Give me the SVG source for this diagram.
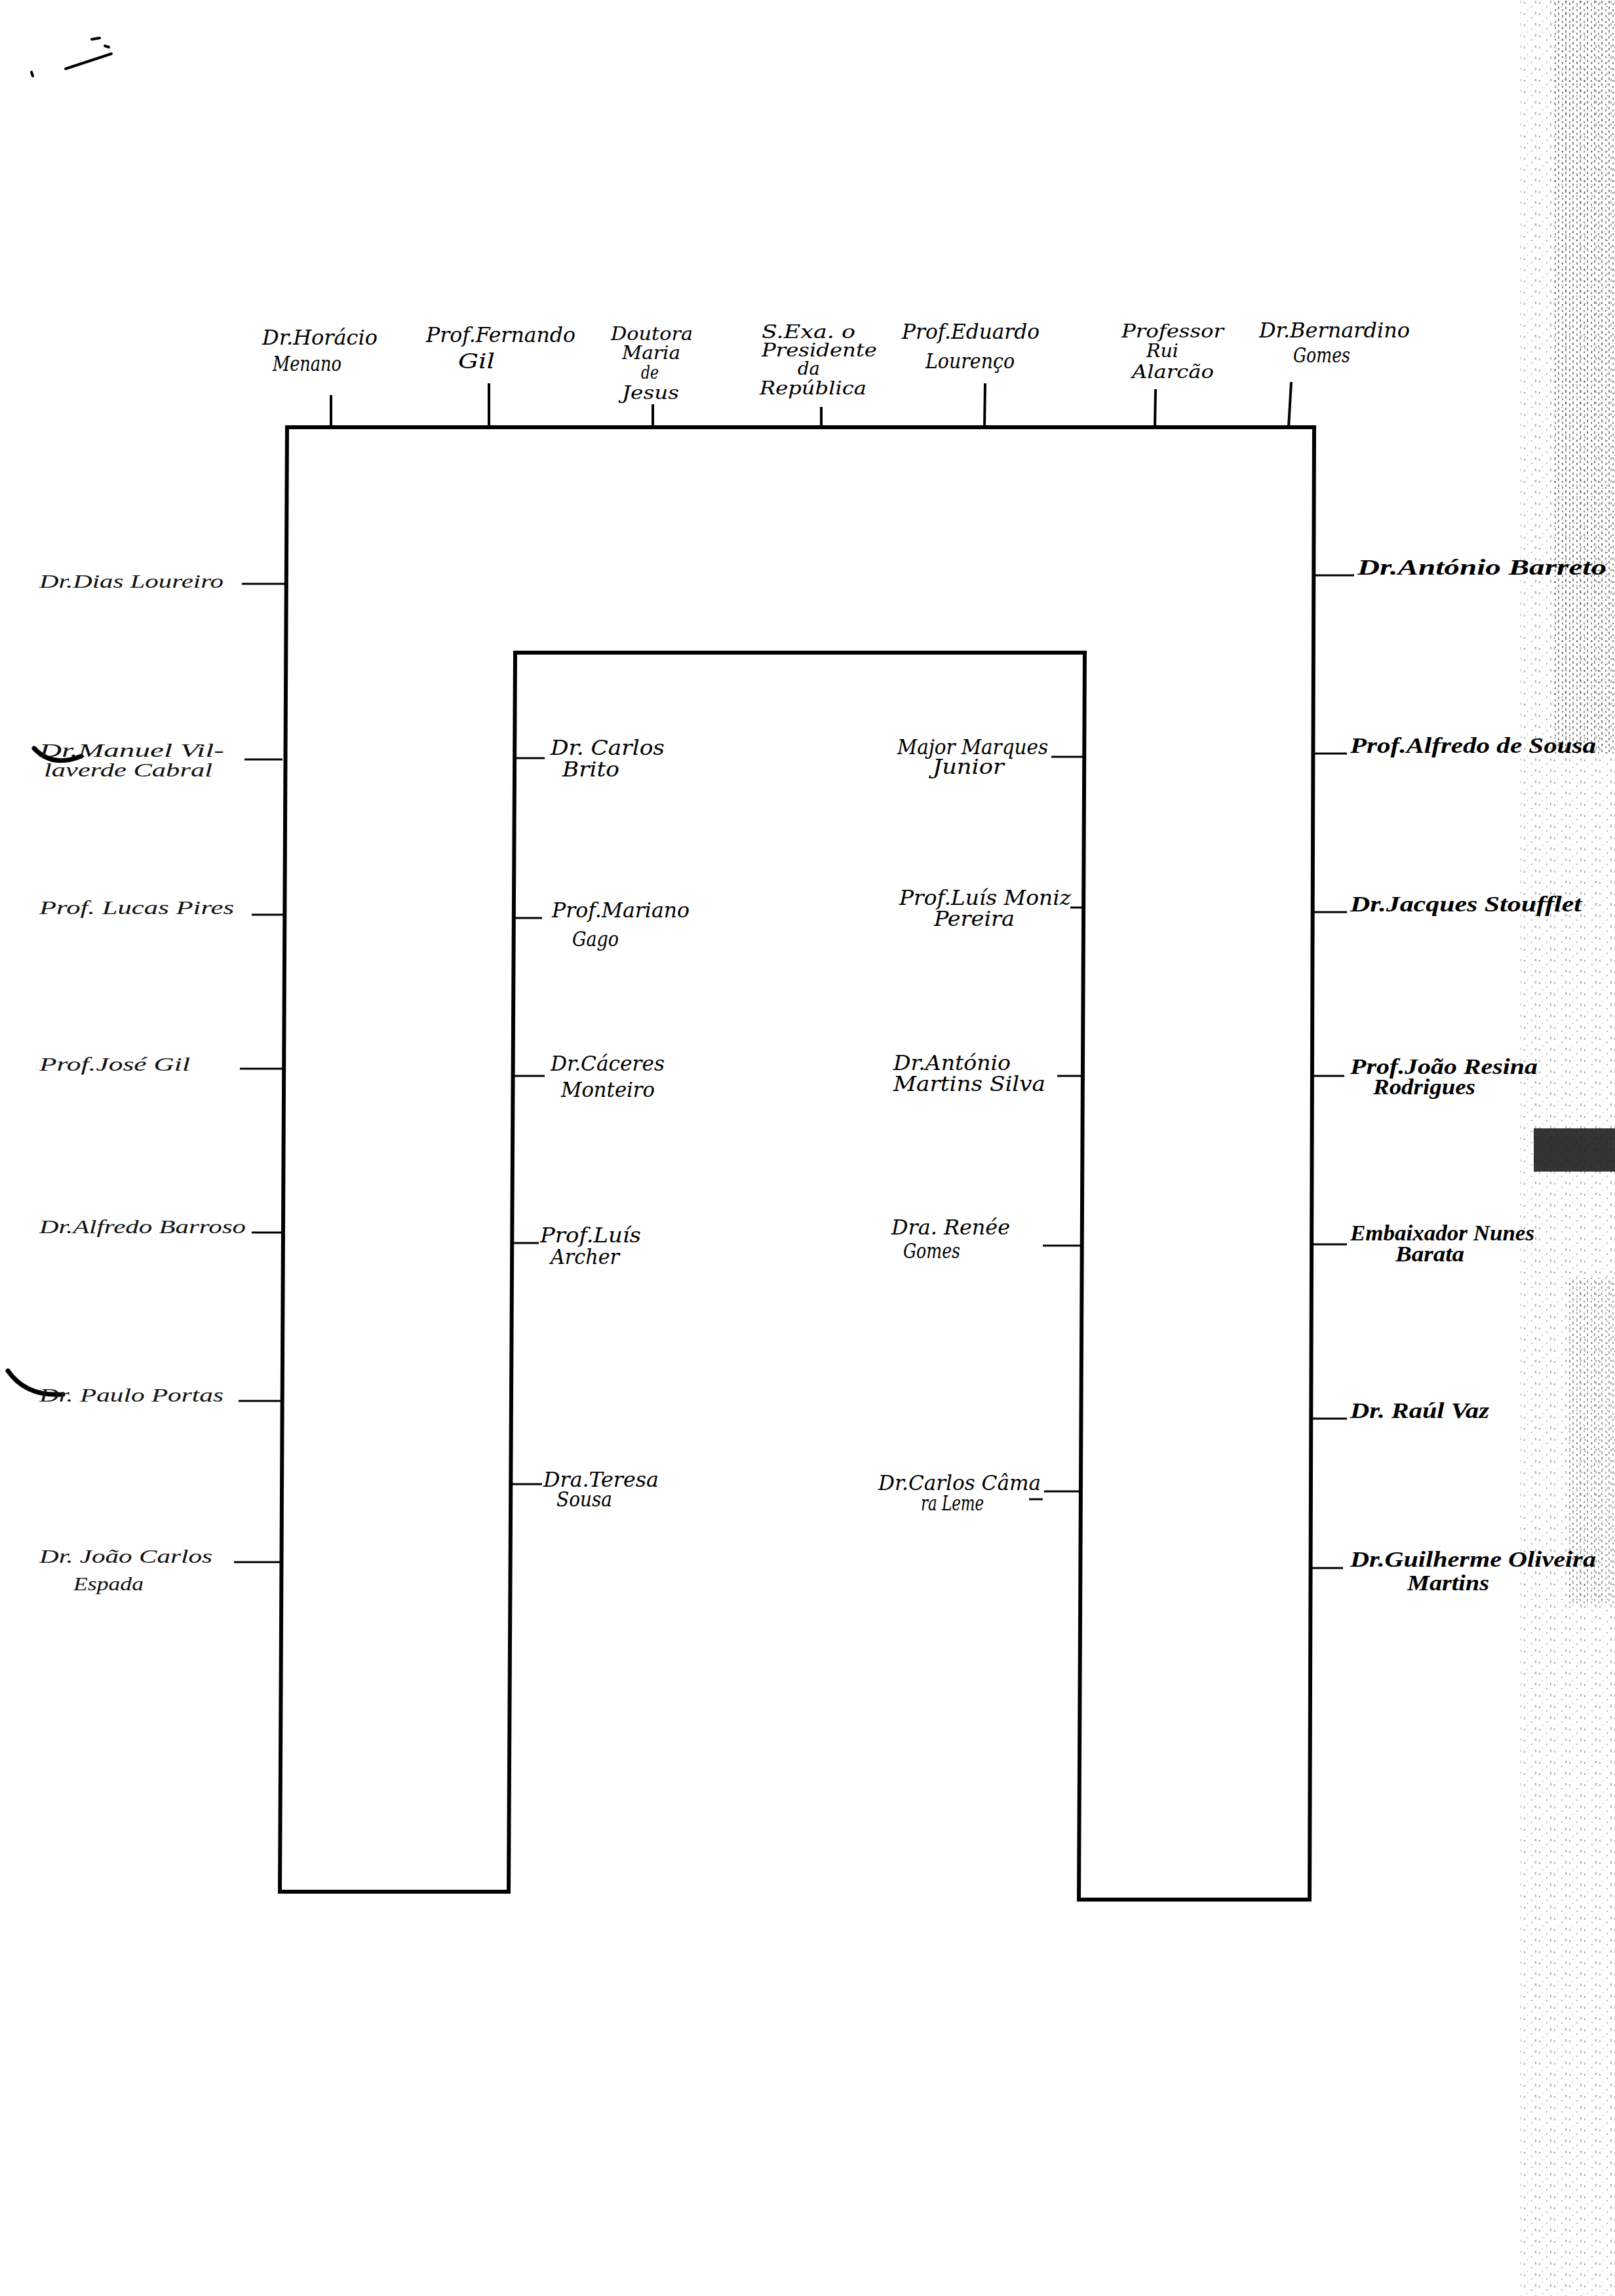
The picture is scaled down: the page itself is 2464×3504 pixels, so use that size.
<svg xmlns="http://www.w3.org/2000/svg" width="2464" height="3504" viewBox="0 0 2464 3504">
<style>
text{font-family:"Liberation Serif","DejaVu Serif",serif;fill:#000}
.t{font-family:"DejaVu Serif Condensed","DejaVu Serif",serif;font-stretch:condensed;font-size:31px;font-style:italic}
.s{font-size:27px}
.l{font-size:29px;font-style:italic;fill:#111}
.r{font-size:33px;font-style:italic;font-weight:bold}
.frame{fill:none;stroke:#000;stroke-width:6;stroke-linejoin:miter}
.tick{stroke:#000;stroke-width:4;fill:none}
.lead{stroke:#000;stroke-width:3;fill:none}
.mark{fill:none;stroke:#000;stroke-linecap:round}
</style>
<defs>
<pattern id="speck" width="23" height="17" patternUnits="userSpaceOnUse">
<rect x="2" y="3" width="2" height="3" fill="#000"/>
<rect x="13" y="9" width="2" height="2" fill="#000"/>
<rect x="7" y="14" width="1" height="2" fill="#000"/>
<rect x="19" y="1" width="2" height="4" fill="#000"/>
</pattern>
<pattern id="speck2" width="11" height="9" patternUnits="userSpaceOnUse">
<rect x="1" y="1" width="2" height="4" fill="#000"/>
<rect x="7" y="5" width="2" height="3" fill="#000"/>
</pattern>
</defs>
<rect width="2464" height="3504" fill="#fff"/>

<!-- scan noise on right edge -->
<g id="scan-noise">
<rect x="2320" y="0" width="144" height="3504" fill="url(#speck)" opacity="0.3"/>
<rect x="2370" y="0" width="94" height="1150" fill="url(#speck2)" opacity="0.45"/>
<rect x="2390" y="1950" width="74" height="500" fill="url(#speck2)" opacity="0.35"/>
<rect x="2340" y="1722" width="124" height="66" fill="#111" opacity="0.85"/>
<path class="mark" d="M100 105 L170 82" stroke-width="4"/>
<path class="mark" d="M140 60 L152 58 M160 70 L166 72 M48 110 L50 116" stroke-width="4"/>
<path class="mark" d="M52 1142 Q80 1172 124 1154" stroke-width="7"/>
<path class="mark" d="M12 2092 Q40 2132 96 2128" stroke-width="7"/>
</g>

<!-- table -->
<g id="table">
<path class="frame" d="M427 2887 L438 652 L2005 652 L1998 2899 L1646 2899 L1655 996 L786 996 L776 2887 Z"/>
</g>

<g id="connectors">
<line class="tick" x1="505" y1="603" x2="505" y2="652"/>
<line class="tick" x1="746" y1="585" x2="746" y2="652"/>
<line class="tick" x1="996" y1="617" x2="996" y2="652"/>
<line class="tick" x1="1253" y1="621" x2="1253" y2="652"/>
<line class="tick" x1="1503" y1="585" x2="1502" y2="652"/>
<line class="tick" x1="1763" y1="594" x2="1762" y2="652"/>
<line class="tick" x1="1970" y1="583" x2="1966" y2="652"/>
<line class="lead" x1="369" y1="891" x2="437" y2="891"/>
<line class="lead" x1="373" y1="1159" x2="431" y2="1159"/>
<line class="lead" x1="384" y1="1396" x2="433" y2="1396"/>
<line class="lead" x1="366" y1="1631" x2="432" y2="1631"/>
<line class="lead" x1="384" y1="1881" x2="431" y2="1881"/>
<line class="lead" x1="364" y1="2138" x2="430" y2="2138"/>
<line class="lead" x1="357" y1="2384" x2="429" y2="2384"/>
<line class="lead" x1="785" y1="1157" x2="831" y2="1157"/>
<line class="lead" x1="784" y1="1401" x2="827" y2="1401"/>
<line class="lead" x1="783" y1="1642" x2="831" y2="1642"/>
<line class="lead" x1="782" y1="1897" x2="822" y2="1897"/>
<line class="lead" x1="780" y1="2265" x2="827" y2="2265"/>
<line class="lead" x1="1604" y1="1155" x2="1654" y2="1155"/>
<line class="lead" x1="1633" y1="1385" x2="1653" y2="1385"/>
<line class="lead" x1="1613" y1="1642" x2="1652" y2="1642"/>
<line class="lead" x1="1591" y1="1901" x2="1651" y2="1901"/>
<line class="lead" x1="1593" y1="2276" x2="1648" y2="2276"/>
<line class="lead" x1="1570" y1="2288" x2="1591" y2="2288"/>
<line class="lead" x1="2003" y1="878" x2="2066" y2="878"/>
<line class="lead" x1="2002" y1="1150" x2="2055" y2="1150"/>
<line class="lead" x1="2001" y1="1392" x2="2055" y2="1392"/>
<line class="lead" x1="2001" y1="1642" x2="2051" y2="1642"/>
<line class="lead" x1="2000" y1="1899" x2="2055" y2="1899"/>
<line class="lead" x1="1999" y1="2165" x2="2055" y2="2165"/>
<line class="lead" x1="1999" y1="2393" x2="2049" y2="2393"/>
</g>

<g id="horacio-menano"><text class="t" x="400" y="526" textLength="176" lengthAdjust="spacingAndGlyphs">Dr.Horácio</text><text class="t" x="416" y="566" textLength="105" lengthAdjust="spacingAndGlyphs">Menano</text></g>
<g id="fernando-gil"><text class="t" x="650" y="522" textLength="228" lengthAdjust="spacingAndGlyphs">Prof.Fernando</text><text class="t" x="699" y="562" textLength="56" lengthAdjust="spacingAndGlyphs">Gil</text></g>
<g id="maria-de-jesus"><text class="t s" x="932" y="519" textLength="125" lengthAdjust="spacingAndGlyphs">Doutora</text><text class="t s" x="949" y="548" textLength="89" lengthAdjust="spacingAndGlyphs">Maria</text><text class="t s" x="978" y="578" textLength="27" lengthAdjust="spacingAndGlyphs">de</text><text class="t s" x="949" y="609" textLength="87" lengthAdjust="spacingAndGlyphs">Jesus</text></g>
<g id="presidente"><text class="t s" x="1162" y="516" textLength="143" lengthAdjust="spacingAndGlyphs">S.Exa. o</text><text class="t s" x="1162" y="544" textLength="176" lengthAdjust="spacingAndGlyphs">Presidente</text><text class="t s" x="1217" y="572" textLength="34" lengthAdjust="spacingAndGlyphs">da</text><text class="t s" x="1159" y="602" textLength="163" lengthAdjust="spacingAndGlyphs">República</text></g>
<g id="eduardo-lourenco"><text class="t" x="1376" y="517" textLength="210" lengthAdjust="spacingAndGlyphs">Prof.Eduardo</text><text class="t" x="1412" y="562" textLength="136" lengthAdjust="spacingAndGlyphs">Lourenço</text></g>
<g id="rui-alarcao"><text class="t s" x="1711" y="515" textLength="156" lengthAdjust="spacingAndGlyphs">Professor</text><text class="t s" x="1749" y="545" textLength="49" lengthAdjust="spacingAndGlyphs">Rui</text><text class="t s" x="1727" y="577" textLength="125" lengthAdjust="spacingAndGlyphs">Alarcão</text></g>
<g id="bernardino-gomes"><text class="t" x="1921" y="515" textLength="230" lengthAdjust="spacingAndGlyphs">Dr.Bernardino</text><text class="t" x="1973" y="553" textLength="87" lengthAdjust="spacingAndGlyphs">Gomes</text></g>

<g id="dias-loureiro"><text class="l" x="60" y="897" textLength="281" lengthAdjust="spacingAndGlyphs">Dr.Dias Loureiro</text></g>
<g id="manuel-vilaverde-cabral"><text class="l" x="60" y="1155" textLength="282" lengthAdjust="spacingAndGlyphs">Dr.Manuel Vil-</text><text class="l" x="67" y="1185" textLength="257" lengthAdjust="spacingAndGlyphs">laverde Cabral</text></g>
<g id="lucas-pires"><text class="l" x="60" y="1395" textLength="297" lengthAdjust="spacingAndGlyphs">Prof. Lucas Pires</text></g>
<g id="jose-gil"><text class="l" x="60" y="1634" textLength="230" lengthAdjust="spacingAndGlyphs">Prof.José Gil</text></g>
<g id="alfredo-barroso"><text class="l" x="60" y="1882" textLength="315" lengthAdjust="spacingAndGlyphs">Dr.Alfredo Barroso</text></g>
<g id="paulo-portas"><text class="l" x="60" y="2139" textLength="281" lengthAdjust="spacingAndGlyphs">Dr. Paulo Portas</text></g>
<g id="joao-carlos-espada"><text class="l" x="60" y="2385" textLength="264" lengthAdjust="spacingAndGlyphs">Dr. João Carlos</text><text class="l" x="112" y="2427" textLength="107" lengthAdjust="spacingAndGlyphs">Espada</text></g>

<g id="carlos-brito"><text class="t" x="840" y="1152" textLength="174" lengthAdjust="spacingAndGlyphs">Dr. Carlos</text><text class="t" x="858" y="1185" textLength="87" lengthAdjust="spacingAndGlyphs">Brito</text></g>
<g id="mariano-gago"><text class="t" x="842" y="1400" textLength="210" lengthAdjust="spacingAndGlyphs">Prof.Mariano</text><text class="t" x="873" y="1444" textLength="71" lengthAdjust="spacingAndGlyphs">Gago</text></g>
<g id="caceres-monteiro"><text class="t" x="840" y="1634" textLength="174" lengthAdjust="spacingAndGlyphs">Dr.Cáceres</text><text class="t" x="856" y="1674" textLength="143" lengthAdjust="spacingAndGlyphs">Monteiro</text></g>
<g id="luis-archer"><text class="t" x="824" y="1896" textLength="154" lengthAdjust="spacingAndGlyphs">Prof.Luís</text><text class="t" x="840" y="1929" textLength="105" lengthAdjust="spacingAndGlyphs">Archer</text></g>
<g id="teresa-sousa"><text class="t" x="829" y="2269" textLength="176" lengthAdjust="spacingAndGlyphs">Dra.Teresa</text><text class="t" x="849" y="2299" textLength="85" lengthAdjust="spacingAndGlyphs">Sousa</text></g>

<g id="marques-junior"><text class="t" x="1369" y="1151" textLength="230" lengthAdjust="spacingAndGlyphs">Major Marques</text><text class="t" x="1423" y="1181" textLength="109" lengthAdjust="spacingAndGlyphs">Junior</text></g>
<g id="moniz-pereira"><text class="t" x="1372" y="1381" textLength="262" lengthAdjust="spacingAndGlyphs">Prof.Luís Moniz</text><text class="t" x="1425" y="1413" textLength="123" lengthAdjust="spacingAndGlyphs">Pereira</text></g>
<g id="martins-silva"><text class="t" x="1363" y="1633" textLength="179" lengthAdjust="spacingAndGlyphs">Dr.António</text><text class="t" x="1363" y="1665" textLength="232" lengthAdjust="spacingAndGlyphs">Martins Silva</text></g>
<g id="renee-gomes"><text class="t" x="1360" y="1884" textLength="181" lengthAdjust="spacingAndGlyphs">Dra. Renée</text><text class="t" x="1378" y="1920" textLength="87" lengthAdjust="spacingAndGlyphs">Gomes</text></g>
<g id="camara-leme"><text class="t" x="1340" y="2274" textLength="248" lengthAdjust="spacingAndGlyphs">Dr.Carlos Câma</text><text class="t" x="1405" y="2305" textLength="96" lengthAdjust="spacingAndGlyphs">ra Leme</text></g>

<g id="antonio-barreto"><text class="r" x="2071" y="877" textLength="380" lengthAdjust="spacingAndGlyphs">Dr.António Barreto</text></g>
<g id="alfredo-de-sousa"><text class="r" x="2060" y="1149" textLength="375" lengthAdjust="spacingAndGlyphs">Prof.Alfredo de Sousa</text></g>
<g id="jacques-stoufflet"><text class="r" x="2060" y="1391" textLength="353" lengthAdjust="spacingAndGlyphs">Dr.Jacques Stoufflet</text></g>
<g id="resina-rodrigues"><text class="r" x="2060" y="1639" textLength="286" lengthAdjust="spacingAndGlyphs">Prof.João Resina</text><text class="r" x="2095" y="1670" textLength="156" lengthAdjust="spacingAndGlyphs">Rodrigues</text></g>
<g id="nunes-barata"><text class="r" x="2060" y="1893" textLength="281" lengthAdjust="spacingAndGlyphs">Embaixador Nunes</text><text class="r" x="2129" y="1925" textLength="105" lengthAdjust="spacingAndGlyphs">Barata</text></g>
<g id="raul-vaz"><text class="r" x="2060" y="2164" textLength="212" lengthAdjust="spacingAndGlyphs">Dr. Raúl Vaz</text></g>
<g id="oliveira-martins"><text class="r" x="2060" y="2391" textLength="375" lengthAdjust="spacingAndGlyphs">Dr.Guilherme Oliveira</text><text class="r" x="2147" y="2427" textLength="125" lengthAdjust="spacingAndGlyphs">Martins</text></g>
</svg>
